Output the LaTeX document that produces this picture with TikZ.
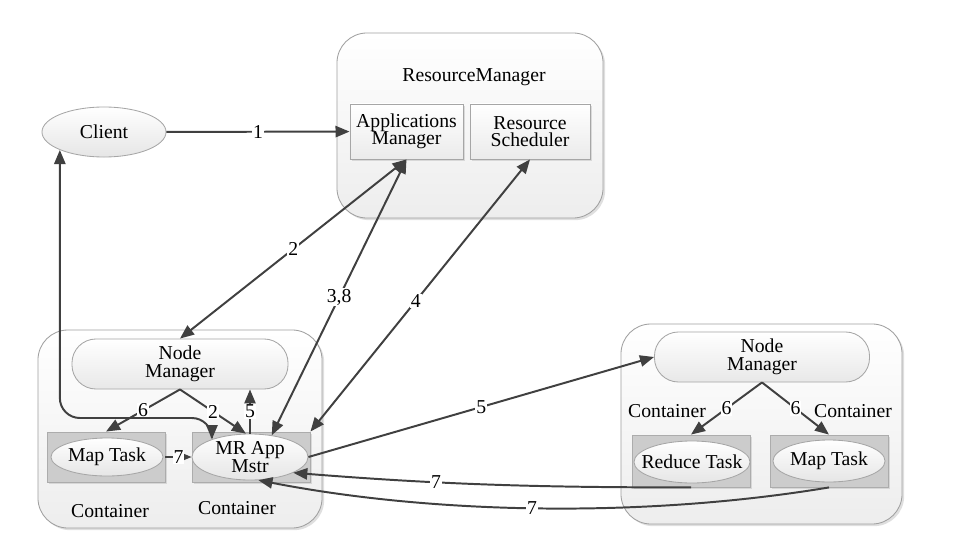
\documentclass[tikz,border=0pt]{standalone}
\usepackage{fontspec}
\setmainfont{Liberation Serif}
\usetikzlibrary{arrows.meta,shapes.geometric,shadows,positioning}

\begin{document}
\begin{tikzpicture}[x=0.025cm, y=-0.025cm,
                    font=\fontsize{14}{12.5}\selectfont,
                    >={Triangle[length=10pt,width=8pt]},
                    flow/.style={draw=black!75, line width=1.4pt},
                    lbl/.style={fill=white, inner sep=0.6pt},
                    hostbox/.style={draw=gray!75, line width=0.6pt, rounded corners=0.75cm,
                                    top color=white, bottom color=gray!14,
                                    drop shadow={shadow xshift=1.5pt, shadow yshift=-1.5pt, fill=black!25, opacity=0.5}},
                    unitbox/.style={draw=gray!70, line width=0.6pt, top color=white, bottom color=gray!16,
                                    minimum height=1.375cm, align=center, inner sep=1pt,
                                    drop shadow={shadow xshift=1.2pt, shadow yshift=-1.2pt, fill=black!25, opacity=0.5}},
                    mgrbox/.style={draw=gray!70, line width=0.6pt, rounded corners=0.6cm,
                                   top color=white, bottom color=gray!18,
                                   minimum width=5.4cm, minimum height=1.25cm, align=center},
                    slotbox/.style={draw=gray!65, line width=0.6pt, fill=gray!40,
                                    minimum width=2.95cm, minimum height=1.25cm,
                                    drop shadow={shadow xshift=1.2pt, shadow yshift=-1.2pt, fill=black!25, opacity=0.5}},
                    taskell/.style={ellipse, draw=gray!70, line width=0.6pt, top color=white, bottom color=gray!20,
                                    inner xsep=-14pt, inner ysep=0pt, align=center}]
                    \useasboundingbox (0,0) rectangle (974,539);

                    % ResourceManager
                    \node[hostbox, minimum width=6.65cm, minimum height=4.625cm] (RM) at (470,125.5) {};
                    \node (RMTitle) at (474,77) {ResourceManager};
                    \node[unitbox, minimum width=2.825cm] (AppMgr) at (406.5,131.5) {Applications\\Manager};
                    \node[unitbox, minimum width=3cm] (Sched) at (530,131.5) {Resource\\Scheduler};

                    \node[taskell, minimum width=3.1cm, minimum height=1.25cm] (Client) at (104,132) {Client};

                    % left host
                    \node[hostbox, minimum width=7.1cm, minimum height=4.95cm] (HostL) at (180,429) {};
                    \node[mgrbox] (NMLeft) at (180,364) {Node\\Manager};
                    \node[slotbox] (MapSlotL) at (106,457) {};
                    \node[taskell, minimum width=2.8cm, minimum height=0.95cm] (MapL) at (107,457) {Map Task};
                    \node[slotbox] (MRSlot) at (251,457) {};
                    \node[taskell, minimum width=2.9cm, minimum height=1.15cm] (MR) at (250,457) {MR App\\Mstr};
                    \node (ContL1) at (110,511) {Container};
                    \node (ContL2) at (237,508) {Container};

                    % right host
                    \node[hostbox, minimum width=7.025cm, minimum height=5cm] (HostR) at (761.5,424) {};
                    \node[mgrbox, minimum width=5.375cm] (NMRight) at (762,357) {Node\\Manager};
                    \node[slotbox, minimum height=1.3cm] (RedSlot) at (691,461) {};
                    \node[taskell, minimum width=2.9cm, minimum height=1.05cm] (Reduce) at (692,462) {Reduce Task};
                    \node[slotbox, minimum height=1.3cm] (MapSlotR) at (829,461) {};
                    \node[taskell, minimum width=2.8cm, minimum height=1.05cm] (MapR) at (829,461) {Map Task};
                    \node (ContR1) at (667,411) {Container};
                    \node (ContR2) at (853,411) {Container};

                    \coordinate (Bend) at (0,418);

                    % connectors
                    \draw[flow, ->] (Client) -- node[lbl] {1} (AppMgr);
                    \draw[flow, <->] (NMLeft.north) -- node[lbl] {2} (AppMgr.south);
                    \draw[flow, <->] (MR.45) -- node[lbl] {3,8} (AppMgr.south);
                    \draw[flow, <->] (MRSlot.north east) -- node[lbl, pos=0.48] {4} (Sched.south);
                    \draw[flow, ->] (MR.east) -- node[lbl] {5} (NMRight.west);
                    \draw[flow, ->] (MR.north) -- node[lbl] {5} (MR.north |- NMLeft.south);
                    \draw[flow, ->] (NMLeft.south) -- node[lbl] {6} (MapSlotL.north);
                    \draw[flow, ->] (NMLeft.south) -- node[lbl] {2} (MR.100);
                    \draw[flow, ->] (MapSlotL.east) -- node[lbl] {7} (MR.west);
                    \draw[flow, <->, rounded corners=0.5cm] (Client.south west) -- (Client.south west |- Bend)
                        -- (MR.155 |- Bend) -- (MR.155);
                    \draw[flow, ->] (NMRight.south) -- node[lbl] {6} (RedSlot.north);
                    \draw[flow, ->] (NMRight.south) -- node[lbl] {6} (MapSlotR.north);
                    \draw[flow, ->] (RedSlot.south) .. controls +(-150,0) and +(150,12) .. node[lbl, pos=0.65] {7} (MR.-20);
                    \draw[flow, ->] (MapSlotR.south) .. controls +(-180,30) and +(180,35) .. node[lbl, pos=0.52] {7} (MR.-70);
\end{tikzpicture}
\end{document}
